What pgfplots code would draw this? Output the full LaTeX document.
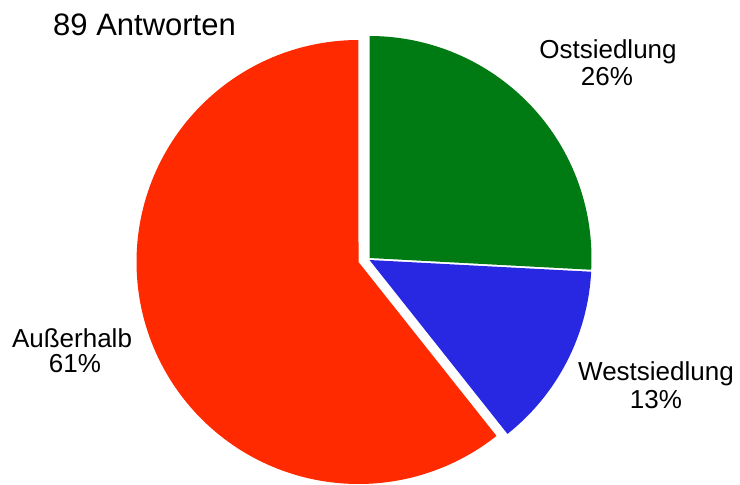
\documentclass[border=0pt]{standalone}
\usepackage{pgfplots}
\pgfplotsset{compat=1.18}
\usepackage{fontspec}
\setmainfont{Liberation Sans}
\definecolor{cred}{RGB}{255,42,0}
\definecolor{cgreen}{RGB}{0,122,18}
\definecolor{cblue}{RGB}{40,40,226}
% counts of answers
\def\nOst{23}
\def\nWest{12}
\def\nAus{54}
\begin{document}
\begin{tikzpicture}
\pgfmathsetmacro{\tot}{\nOst+\nWest+\nAus}
\pgfmathsetmacro{\aA}{90}
\pgfmathsetmacro{\aB}{90-360*(\nOst/\tot)}
\pgfmathsetmacro{\aC}{\aB-360*(\nWest/\tot)}
\pgfmathsetmacro{\aD}{\aC-360*(\nAus/\tot)}
\begin{axis}[
  scale only axis, width=740pt, height=485pt,
  xmin=0, xmax=740, ymin=0, ymax=485, y dir=reverse,
  axis lines=none, clip=false]
\path (rel axis cs:0,0) rectangle (rel axis cs:1,1);
% Ostsiedlung
\addplot[fill=cgreen, draw=none, samples at={0,1,...,80}, variable=\t]
  ({\t==0 ? 369.5 : 369.5+222*cos(\aA+(\aB-\aA)*(\t-1)/79)},
   {\t==0 ? 258 : 258-222*sin(\aA+(\aB-\aA)*(\t-1)/79)}) -- cycle;
% Westsiedlung
\addplot[fill=cblue, draw=none, samples at={0,1,...,80}, variable=\t]
  ({\t==0 ? 369.5 : 369.5+222*cos(\aB+(\aC-\aB)*(\t-1)/79)},
   {\t==0 ? 260 : 260-222*sin(\aB+(\aC-\aB)*(\t-1)/79)}) -- cycle;
% Ausserhalb
\addplot[fill=cred, draw=none, samples at={0,1,...,200}, variable=\t]
  ({\t==0 ? 358.5 : 358.5+222*cos(\aC+(\aD-\aC)*(\t-1)/199)},
   {\t==0 ? 262 : 262-222*sin(\aC+(\aD-\aC)*(\t-1)/199)}) -- cycle;
\node[anchor=base west, font=\fontsize{31}{33}\selectfont, inner sep=0pt] at (axis cs:53,35) {89 Antworten};
\node[anchor=base, font=\fontsize{26}{27}\selectfont, inner sep=0pt] at (axis cs:608,58) {Ostsiedlung};
\node[anchor=base, font=\fontsize{26}{27}\selectfont, inner sep=0pt] at (axis cs:607,85) {26\%};
\node[anchor=base, font=\fontsize{26}{27}\selectfont, inner sep=0pt] at (axis cs:656,380) {Westsiedlung};
\node[anchor=base, font=\fontsize{26}{27}\selectfont, inner sep=0pt] at (axis cs:656,408) {13\%};
\node[anchor=base, font=\fontsize{26}{27}\selectfont, inner sep=0pt] at (axis cs:72,347) {Außerhalb};
\node[anchor=base, font=\fontsize{26}{27}\selectfont, inner sep=0pt] at (axis cs:75,372) {61\%};
\end{axis}
\end{tikzpicture}
\end{document}
